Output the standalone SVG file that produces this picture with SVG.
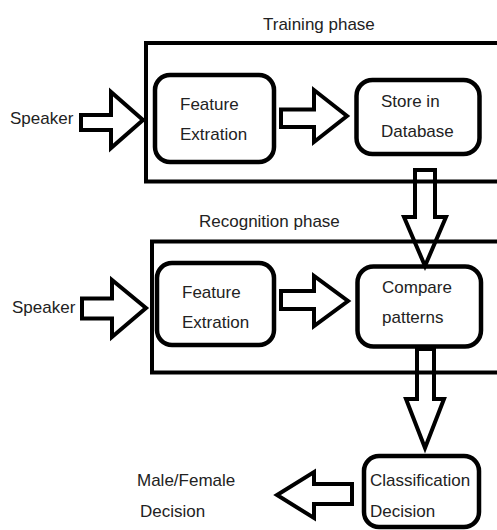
<svg xmlns="http://www.w3.org/2000/svg" width="497" height="530" viewBox="0 0 497 530">
<style>
.frame{fill:none;stroke:#000;stroke-width:4}
.box{fill:#fff;stroke:#000;stroke-width:4.5}
.arrow{fill:none;stroke:#000;stroke-width:4;stroke-linejoin:miter}
text{font-family:"Liberation Sans",Arial,sans-serif;font-size:17px;fill:#222}
</style>
<rect width="497" height="530" fill="#fff"/>
<g id="training-phase">
<rect class="frame" x="146" y="43" width="370" height="138.5"/>
<text x="263" y="30">Training phase</text>
</g>
<g id="recognition-phase">
<rect class="frame" x="152" y="241.5" width="364" height="131"/>
<text x="199" y="227">Recognition phase</text>
</g>
<g id="speaker-1"><text x="10" y="124">Speaker</text></g>
<g id="speaker-2"><text x="12" y="313">Speaker</text></g>
<g id="feature-1">
<rect class="box" x="155" y="75" width="119" height="87" rx="15"/>
<text x="180" y="110">Feature</text>
<text x="180" y="140">Extration</text>
</g>
<g id="store">
<rect class="box" x="356.5" y="80" width="123" height="74" rx="16"/>
<text x="381" y="107">Store in</text>
<text x="381" y="137">Database</text>
</g>
<g id="feature-2">
<rect class="box" x="157" y="263" width="117" height="82" rx="15"/>
<text x="182" y="298">Feature</text>
<text x="182" y="328">Extration</text>
</g>
<g id="compare">
<rect class="box" x="357.5" y="266.5" width="123.5" height="80" rx="16"/>
<text x="382" y="292.5">Compare</text>
<text x="382" y="322.5">patterns</text>
</g>
<g id="classification">
<rect class="box" x="364" y="456" width="115" height="71" rx="15"/>
<text x="370" y="486">Classification</text>
<text x="370" y="517">Decision</text>
</g>
<g id="result">
<text x="137" y="486">Male/Female</text>
<text x="140" y="517">Decision</text>
</g>
<g id="connectors">
<polygon class="arrow" points="81,115 111,115 111,92 143,120 111,148 111,130 81,130"/>
<polygon class="arrow" points="281,109.5 314,109.5 314,90 347,116 314,142 314,127 281,127"/>
<polygon class="arrow" points="82,298.5 112,298.5 112,280 146,308 112,337 112,318.5 82,318.5"/>
<polygon class="arrow" points="281,291 314,291 314,276 348,301 314,326 314,309 281,309"/>
<polygon class="arrow" points="415,170 435,170 435,217 446,217 425,266 404,217 415,217"/>
<polygon class="arrow" points="417,349 434,349 434,399 444,399 425,448 406,399 417,399"/>
<polygon class="arrow" points="352,484 314,484 314,472 277,495 314,518 314,504 352,504"/>
</g>
</svg>
